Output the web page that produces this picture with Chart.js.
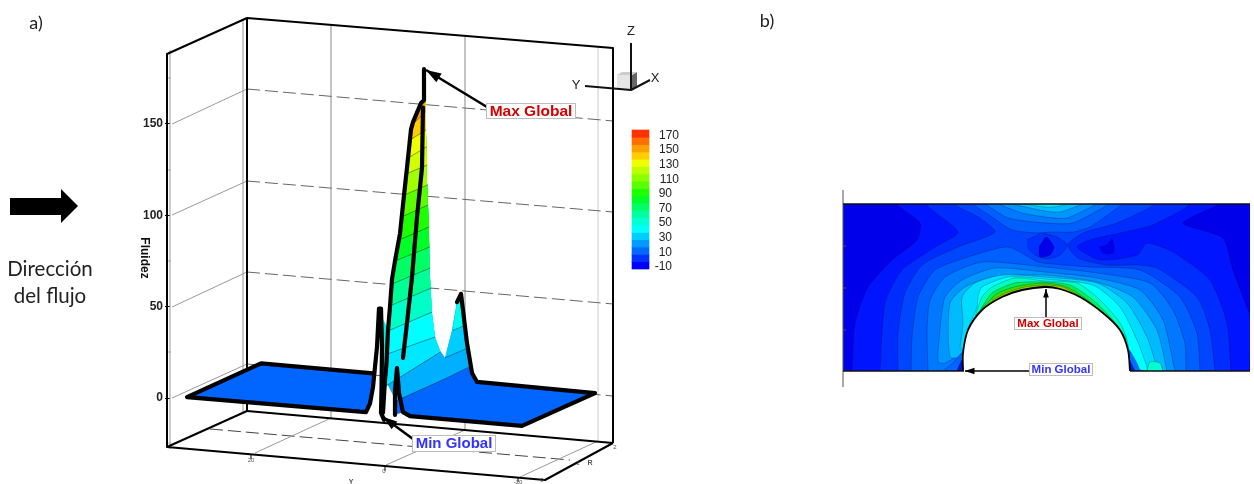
<!DOCTYPE html>
<html><head><meta charset="utf-8">
<style>html,body{margin:0;padding:0;background:#fff}canvas{display:block}</style>
<script src="https://cdn.jsdelivr.net/npm/chart.js@4/dist/chart.umd.min.js"></script>
</head><body><canvas id="c" width="1254" height="484"></canvas>
<script>
// ---- Panel a: height (Fluidez) against the projected position along the plot
const fluidezTicks = [0, 50, 100, 150];
const sheetLeft = [[187,0.5],[261,19],[373,13.5],[373,6],[370,-3],[366,-7.7]];
const sheetRight = [[400,0],[469,17],[477,8.8],[595,2.7],[522,-15.3],[410,-9.9],[403,-7.7]];
const smallPeakFill = [[395,-9],[395,4],[397,16],[399,3],[403,-8]];
const ridgeLeft = [[383,-8],[385,10],[386.5,19],[388,37],[390,50],[392,65],[395,75],[400,90],[404,111],[407,126],[411,147],[413,151],[421,161.5],[424,163],[424,180]];
const ridgeRight = [[424,180],[425.5,157.6],[427,118],[428,105.6],[430,66],[432,46.5],[435,33.4],[440,26],[445,22]];
const secondPeak = [[469,17],[467,30],[465,41],[461,57],[457,52.5],[452,37],[445,22]];
const bandBaseStart = [[396,-1.6],[447,11]];
const contourLX = [386,387,388,390,392,395,399,401,404,406,408,410,412,420];
const contourLF = [6.6,24,36.7,50.4,62.4,75,86.5,99,111,122.6,131.4,141.2,149.4,160];
const contourRX = [440,435,432,431,430,429.5,429,428,427.5,427,426.5,426,425.5,425];
const contourRF = [25,33.4,47,60.2,71.1,82.6,93.6,105.6,116.6,127.5,137.4,146.7,156.5,163];
const peakOneUpper = [[382,44],[389,37],[388,18],[382.5,18]];
const peakOneLower = [[382.5,18],[388,18],[386,7],[384,0]];
const secondPeak20 = [[445,22],[468,27.4],[467,30],[465,41],[461,57],[457,52.5],[452,37]];
const secondPeak30 = [[453,37],[466,40],[465,41],[461,57],[457,52.5]];
const lineSheetLeft = [[373,13.5],[261,19],[187,0.5],[360,-7.5],[366,-7.7],[370,-3],[373,6],[377,28],[379,49],[381,49],[382,28],[381.5,5],[381,-8],[384,-12]];
const lineSheetRight = [[395,-9.3],[395,4.4],[397,16.4],[399,2.7],[403,-7.7],[410,-9.9],[522,-15.3],[595,2.7],[477,8.8],[472,13.7],[467,30],[461,57],[457,52.5]];
const lineInner = [[423,159],[422,126],[417,99],[412,66],[407,41],[403,22]];

// ---- Colour bar
const barLevels = [-10,0,10,20,30,40,50,60,70,80,90,100,110,120,130,140,150,160,170];
const barLabels = [170,150,130,110,90,70,50,30,10,-10];

// ---- Panel b: contours in plot units around the cylinder
const domainRect = [[-204,0],[203,0],[203,167],[-204,167]];
const lobeA = [[-195,0],[-192,48],[-179,84],[-155,111],[-130,131],[-127,148],[-149,167],[170,167],[136,148],[176,133],[186,101],[200,64],[203,56],[203,0]];
const lobeB = [[-167,0],[-162,68],[-145,101],[-112,124],[-89,139],[-119,167],[141,167],[106,146],[73,138],[43,131],[30,124],[53,111],[90,116],[100,128],[126,119],[163,91],[180,48],[184,0]];
const lobeC = [[-149,0],[-149,38],[-142,78],[-125,106],[-89,124],[-52,139],[-69,154],[-92,167],[106,167],[70,148],[36,138],[21,126],[31,113],[60,106],[90,106],[110,103],[150,74],[163,41],[168,0]];
const lobeD = [[-136,0],[-135,34],[-129,74],[-112,101],[-79,114],[-39,124],[-9,109],[6,107],[43,104],[93,101],[133,74],[150,38],[153,0]];
const lobeE = [[-119,0],[-120,41],[-117,71],[-102,94],[-65,109],[-2,104],[43,99],[103,88],[126,61],[138,28],[139,0]];
const lobeF = [[-84,18],[-102,8],[-109,9],[-107,41],[-102,74],[-85,91],[-52,103],[-2,99],[50,93],[93,81],[116,51],[128,0]];
const lobeG = [[-84,14],[-97,14],[-97,68],[-82,84],[-55,94],[-2,96],[50,89],[86,74],[110,41],[120,0]];
const lobeH = [[-87,24],[-84,48],[-85,74],[-72,88],[-45,96],[-2,94],[50,88],[80,68],[100,34],[111,0]];
const lobeI = [[-80,41],[-70,64],[-69,74],[-65,84],[-39,94],[-2,92],[46,86],[73,64],[90,31],[100,4],[100,0]];
const lobeJ = [[-75,44],[-65,74],[-55,84],[-32,93],[-2,90],[30,88],[53,71],[73,48],[80,31],[83,14]];
const lobeK = [[-70,56],[-55,78],[-32,88],[-2,89],[23,86],[46,71],[66,51],[78,34],[80,24]];
const lobeL = [[-65,63],[-49,78],[-29,85],[-2,88],[20,84],[43,69],[63,49],[76,33]];
const lobeM = [[-55,71],[-39,79],[-22,84],[-2,86],[16,84],[38,71],[58,54],[73,38]];
const lobeN = [[-35,79],[-19,82],[-2,85],[10,83],[33,73],[53,58]];
const lobeO = [[-22,81],[-2,85],[6,83],[26,76]];
const topT1 = [[-75,167],[-55,154],[-35,141],[-9,138],[3,139],[26,139],[43,144],[76,167]];
const topT2 = [[-62,167],[-39,153],[-2,148],[26,148],[63,167]];
const topT3 = [[-49,167],[-25,158],[-2,154],[20,153],[50,167]];
const topT4 = [[-35,167],[-2,160],[13,159],[36,167]];
const topT5 = [[-22,167],[-2,164],[6,164],[23,167]];
const eyeOuter = [[-20,131],[-9,136],[-7,138],[10,134],[20,126],[13,116],[0,112],[-12,116],[-20,124]];
const eyeInner = [[-8,124],[-2,133],[0,134],[7,124],[3,116],[-7,114],[-8,121]];
const secondLow = [[52,124],[60,126],[65,132],[67,119],[61,117],[55,118]];
const footLeft = [[-104,0],[-94,8],[-85,18],[-84,0]];
const footLeftDark = [[-90,0],[-85,11],[-84,0]];
const footRight = [[83,0],[82,21],[90,8],[93,0]];
const footRightDark = [[83,0],[82,12],[86,4],[88,0]];
const lobeAqua = [[100,0],[103,9],[113,8],[116,0]];
const cylinderEdge = [[-84,0],[-84,18],[-79,41],[-65,61],[-45,74],[-25,81],[-2,84],[13,82],[33,74],[56,58],[73,41],[81,21],[83,0]];

// ---- Styling
const surfaceColors = ['#00e8ff','#00ffff','#00ffc8','#00ff96','#00ff64','#00ff28','#1eff00','#5aff00','#a0ff00','#d2ff00','#f0ff00','#ffcd00','#ffa000','#ff8200'];
const barColors = ['#0000ff','#0032ff','#0069ff','#009bff','#00cdff','#00ffff','#00ffd2','#00ffa0','#00ff64','#00ff28','#1eff00','#5aff00','#8cff00','#beff00','#f0ff00','#ffcd00','#ffa000','#ff6e00','#ff3200'];
const SANS = '"Liberation Sans"', SOFT = 'Lato';

const pts = a => a.map(([x, y]) => ({x, y}));
const stack = [];
function area(a, color, panel, edge) {
  stack.push({data: pts(a), showLine: true, pointRadius: 0, fill: 'shape', backgroundColor: color,
    borderColor: edge || 'transparent', borderWidth: edge ? 0.6 : 0, tension: panel === 'b' ? 0.22 : 0,
    xAxisID: panel === 'b' ? 'xb' : 'x', yAxisID: panel === 'b' ? 'yb' : 'y'});
}
function stroke(a, width, color, tension) {
  stack.push({data: pts(a), showLine: true, pointRadius: 0, fill: false, borderColor: color,
    borderWidth: width, tension: tension || 0, borderCapStyle: 'round', borderJoinStyle: 'round', xAxisID: 'x', yAxisID: 'y'});
}
// surface of panel a
area(sheetLeft, '#0066ff', 'a');
area(sheetRight, '#0066ff', 'a');
area(smallPeakFill, '#0066ff', 'a');
area(peakOneUpper, '#00f0dc', 'a');
area(peakOneLower, '#00d2ff', 'a');
area([...bandBaseStart, ...secondPeak, ...[...ridgeRight].reverse().slice(1), ...[...ridgeLeft].reverse().filter(p => p[1] > 0)], '#00b0ff', 'a');
area(secondPeak20, '#00cdff', 'a');
area(secondPeak30, '#00ffee', 'a');
contourLX.forEach((lx, i) => {
  const L = [lx, contourLF[i]], R = [contourRX[i], contourRF[i]];
  area([L, R, ...[...ridgeRight].reverse().filter(p => p[1] > R[1]), ...[...ridgeLeft].reverse().filter(p => p[1] > L[1])], surfaceColors[i], 'a');
  stroke([L, R], 0.7, 'rgba(0,0,0,.55)');
});
stroke([...bandBaseStart, [469,17]], 0.7, 'rgba(0,0,0,.55)');
stroke([[445,22],[468,27.4]], 0.7, 'rgba(0,0,0,.55)');
stroke([[453,37],[466,40]], 0.7, 'rgba(0,0,0,.55)');
[lineSheetLeft, lineSheetRight, ridgeLeft, lineInner].forEach(l => stroke(l, 4.2, '#000', 0));
// panel b
const EDGE = 'rgba(0,0,40,.42)';
area(domainRect, '#0000eb', 'b');
[[lobeA,'#0014ff'],[lobeB,'#002dff'],[lobeC,'#0046ff'],[lobeD,'#005fff'],[topT1,'#005fff'],[lobeE,'#0078ff'],[topT2,'#0078ff'],
 [topT3,'#0096ff'],[topT4,'#00beff'],[topT5,'#00ebf5'],[eyeOuter,'#0032ff'],[eyeInner,'#0000eb'],[secondLow,'#0000f0'],
 [lobeF,'#0096ff'],[lobeG,'#00b9ff'],[lobeH,'#00dcff'],[lobeI,'#00ffff'],[lobeAqua,'#00ffd0'],[lobeJ,'#00ffbe'],[lobeK,'#00f05a'],
 [lobeL,'#3cdc00'],[lobeM,'#aac800'],[lobeN,'#e68c00'],[lobeO,'#be1e00'],[footLeft,'#0064ff'],[footLeftDark,'#0014c8'],[footRight,'#006eff'],[footRightDark,'#001ec8']
].forEach(([a, c]) => area(a, c, 'b', EDGE));
stack.push({data: pts(cylinderEdge), showLine: true, pointRadius: 0, fill: 'shape', backgroundColor: '#fff', borderColor: '#000',
  borderWidth: 1.8, tension: 0.3, xAxisID: 'xb', yAxisID: 'yb'});
// colour bar
stack.push({type: 'bar', data: barLevels.map(v => ({x: 640.5, y: [v, v + 10]})), backgroundColor: barColors, borderWidth: 0,
  barThickness: 17, grouped: false, xAxisID: 'x', yAxisID: 'yl'});

function seg(ctx, pts, w, color, dash) {
  ctx.save(); ctx.lineWidth = w; ctx.strokeStyle = color; ctx.setLineDash(dash || []); ctx.lineJoin = 'round';
  ctx.beginPath(); pts.forEach((p, i) => i ? ctx.lineTo(p[0], p[1]) : ctx.moveTo(p[0], p[1])); ctx.stroke(); ctx.restore();
}
function txt(ctx, s, x, y, font, color, align, rot) {
  ctx.save(); ctx.font = font; ctx.fillStyle = color; ctx.textAlign = align || 'center'; ctx.textBaseline = 'middle';
  ctx.translate(x, y); if (rot) ctx.rotate(rot); ctx.fillText(s, 0, 0); ctx.restore();
}
function arrow(ctx, from, to, w, head) {
  seg(ctx, [from, to], w, '#000');
  const a = Math.atan2(to[1] - from[1], to[0] - from[0]);
  ctx.save(); ctx.fillStyle = '#000'; ctx.beginPath(); ctx.moveTo(to[0], to[1]);
  ctx.lineTo(to[0] - head * Math.cos(a - .32), to[1] - head * Math.sin(a - .32));
  ctx.lineTo(to[0] - head * Math.cos(a + .32), to[1] - head * Math.sin(a + .32)); ctx.closePath(); ctx.fill(); ctx.restore();
}
function tag(ctx, s, x0, y0, x1, y1, font, color) {
  ctx.save(); ctx.fillStyle = '#fff'; ctx.strokeStyle = '#bdbdbd'; ctx.lineWidth = 1; ctx.fillRect(x0, y0, x1 - x0, y1 - y0); ctx.strokeRect(x0 + .5, y0 + .5, x1 - x0 - 1, y1 - y0 - 1); ctx.restore();
  txt(ctx, s, (x0 + x1) / 2, (y0 + y1) / 2 + .5, font, color);
}
const frame = {
  id: 'frame',
  beforeDatasetsDraw(chart) {
    const c = chart.ctx, D = [13, 5], G = '#666';
    seg(c, [[170,50],[170,449]], 1, '#999'); seg(c, [[243,20],[243,412]], 1, '#999'); seg(c, [[598,47],[598,441]], 1, '#ccc');
    seg(c, [[331,25],[331,418]], 1, '#888'); seg(c, [[465,37],[465,430]], 1, '#888');
    [78,170,261,352,443].forEach(y => seg(c, [[167,y],[171,y]], 1, '#aaa'));
    [[89,121,124],[181,212,215],[272,304,307],[364,396,398]].forEach(([a, b, l]) => {
      seg(c, [[247,a],[613,b]], 1, G, D); seg(c, [[172,l],[247,a]], 1, '#999');
    });
    seg(c, [[210,429],[570,460]], 1, '#444', D);
    seg(c, [[255,453],[331,418]], 1, '#999'); seg(c, [[386,465],[465,430]], 1, '#999'); seg(c, [[520,477],[598,441]], 1, '#999');
    seg(c, [[247,411],[613,443]], 2, '#000'); seg(c, [[167,447],[247,411]], 2, '#000');
    seg(c, [[247,411],[247,18]], 2, '#000'); seg(c, [[613,443],[613,48],[247,18],[167,54],[167,447],[545,480],[613,443]], 2, '#000');
    [[251,454,459],[385,466,471],[518,477,482]].forEach(([x, a, b]) => seg(c, [[x,a],[x,b]], 1, '#000'));
    txt(c, '20', 251, 460, '6px ' + SANS, '#555'); txt(c, '0', 384, 471, '6px ' + SANS, '#555'); txt(c, '-20', 518, 482, '6px ' + SANS, '#555');
    txt(c, '0', 542, 480, '6px ' + SANS, '#555'); txt(c, '1', 578, 463, '6px ' + SANS, '#555'); txt(c, '2', 615, 447, '6px ' + SANS, '#555');
    txt(c, 'R', 590, 463, 'bold 7px ' + SANS, '#555'); txt(c, 'Y', 351, 482, 'bold 7px ' + SANS, '#555');
    txt(c, 'Fluidez', 144, 258, 'bold 12px ' + SANS, '#111', 'center', Math.PI / 2);
    fluidezTicks.forEach(v => txt(c, String(v), 163, chart.scales.y.getPixelForValue(v), 'bold 12px ' + SANS, '#222', 'right'));
  },
  afterDatasetsDraw(chart) {
    const c = chart.ctx;
    // keep the smoothed contours of panel b inside the flow domain
    c.fillStyle = '#fff'; c.fillRect(835, 170, 419, 34); c.fillRect(835, 371, 419, 30); c.fillRect(1250, 170, 4, 230); c.fillRect(835, 170, 8, 230);
    // text and flow arrow
    txt(c, 'a)', 36, 23, '18px ' + SOFT, '#222'); txt(c, 'b)', 767, 21, '18px ' + SOFT, '#222');
    txt(c, 'Dirección', 50, 269, '20.5px ' + SOFT, '#222'); txt(c, 'del flujo', 50, 296, '20.5px ' + SOFT, '#222');
    c.fillStyle = '#000'; c.beginPath();
    [[10,198],[61,198],[61,189],[78,206],[61,223],[61,215],[10,215]].forEach((p, i) => i ? c.lineTo(p[0], p[1]) : c.moveTo(p[0], p[1]));
    c.closePath(); c.fill();
    // triad
    c.fillStyle = '#e6e6e6'; c.fillRect(617, 75, 15, 15);
    c.fillStyle = '#666'; c.beginPath(); c.moveTo(632,75); c.lineTo(637,72); c.lineTo(637,86); c.lineTo(632,90); c.closePath(); c.fill();
    c.fillStyle = '#ccc'; c.beginPath(); c.moveTo(617,75); c.lineTo(622,72); c.lineTo(637,72); c.lineTo(632,75); c.closePath(); c.fill();
    seg(c, [[631,43],[631,90]], 2, '#111'); seg(c, [[585,86],[631,90],[650,80]], 2, '#111');
    txt(c, 'Z', 631, 31, '13px ' + SANS, '#222'); txt(c, 'Y', 576, 85, '13px ' + SANS, '#222'); txt(c, 'X', 655, 78, '13px ' + SANS, '#222');
    // colour bar labels
    barLabels.forEach(v => txt(c, String(v), v >= 100 ? 679 : 672, chart.scales.yl.getPixelForValue(v) - 2, '12px ' + SANS, '#222', 'right'));
    // panel a tags
    arrow(c, [487,107], [426,70], 2.6, 16);
    tag(c, 'Max Global', 486, 103, 576, 119, 'bold 15.5px ' + SANS, '#d40000');
    arrow(c, [413,439], [383,417], 2.6, 15);
    tag(c, 'Min Global', 412, 435, 496, 452, 'bold 15px ' + SANS, '#3333ff');
    // panel b frame
    seg(c, [[843,190],[843,387]], 1, '#555');
    [246,288,330].forEach(y => seg(c, [[843,y],[846,y]], 1, '#555'));
    seg(c, [[843,204],[1250,204]], 1.6, '#111'); seg(c, [[843,371],[964,371]], 1.6, '#111'); seg(c, [[1130,371],[1250,371]], 1.6, '#111');
    arrow(c, [1046,318], [1046,289], 1.5, 9);
    tag(c, 'Max Global', 1014, 317, 1082, 330, 'bold 11.5px ' + SANS, '#d40000');
    arrow(c, [1030,371], [965,371], 1.5, 10);
    tag(c, 'Min Global', 1029, 363, 1093, 376, 'bold 11.5px ' + SANS, '#3333ff');
  }
};
const hidden = (min, max) => ({type: 'linear', display: false, min, max, offset: false});
new Chart(document.getElementById('c'), {
  type: 'scatter',
  data: {datasets: stack.reverse()},
  options: {
    responsive: false, animation: false, events: [],
    layout: {padding: 0, autoPadding: false},
    plugins: {legend: {display: false}, tooltip: {enabled: false}, title: {display: false}},
    scales: {
      x: hidden(0, 1254),
      y: {type: 'linear', min: -47.07, max: 217.84, position: {x: 170},
        afterBuildTicks: s => { s.ticks = fluidezTicks.map(value => ({value})); },
        grid: {drawOnChartArea: false, drawTicks: true, tickLength: 5, color: '#000'},
        border: {display: false},
        ticks: {display: false}},
      xb: hidden(-1047, 207),
      yb: hidden(-113, 371),
      yl: hidden(-303.9, 357.7)
    }
  },
  plugins: [frame]
});
</script></body></html>
